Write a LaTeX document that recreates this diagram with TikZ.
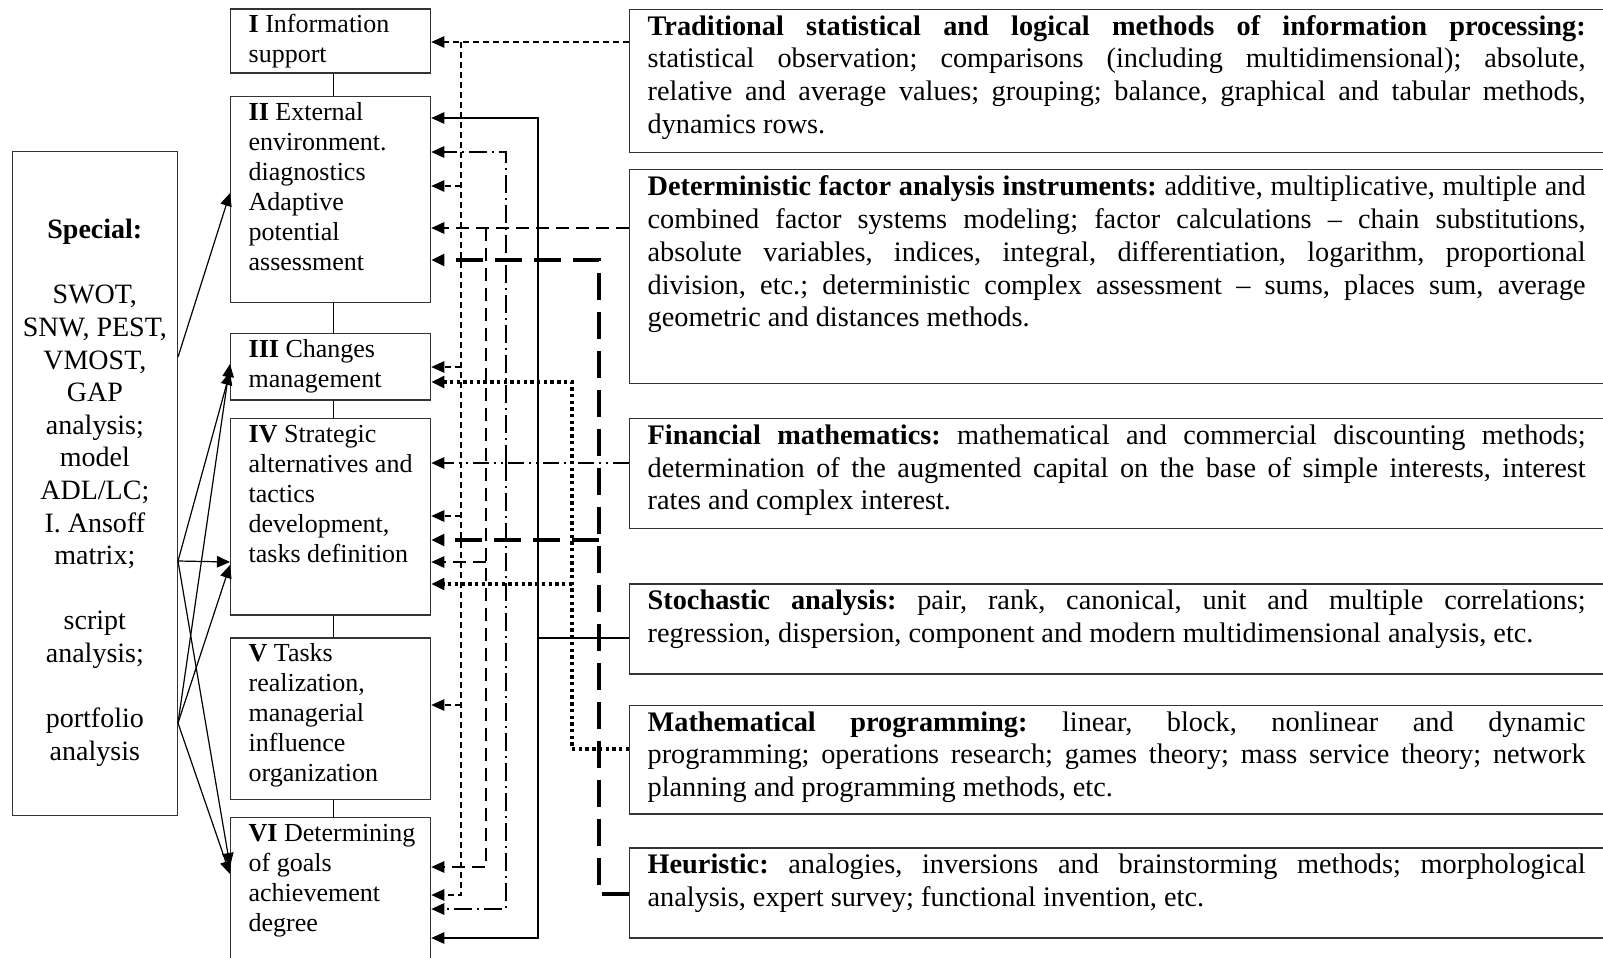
\documentclass[tikz,border=0pt]{standalone}
\usepackage{fontspec}
\setmainfont{Liberation Serif}
\usetikzlibrary{arrows.meta}
\frenchspacing
\newcommand\midfont{\fontsize{26}{30}\selectfont}
\newcommand\rtfont{\fontsize{28.3}{32.8}\selectfont}
\newcommand\lffont{\fontsize{28}{32.6}\selectfont}
\newcommand\jline[1]{\hbox to 938pt{#1}}
\newcommand\lline[1]{\hbox{#1}}
\newcommand\midtext[2]{\parbox[c][#1][t]{200pt}{\raggedright\leftskip=18pt\rule{0pt}{24pt}#2}}
\definecolor{bordc}{gray}{0.2}
\begin{document}
\begin{tikzpicture}[x=1pt,y=-1pt,
  midbox/.style={draw=bordc, line width=1.3pt, anchor=north west, inner sep=0pt, font=\midfont},
  rtbox/.style={draw=bordc, line width=1.3pt, anchor=north west, inner xsep=18pt, inner ysep=0pt, font=\rtfont},
  conn/.style={line width=1.2pt},
  arr/.style={-{Triangle[length=13pt,width=11.5pt]}},
  lnA/.style={line width=1.2pt, dash pattern=on 6pt off 4pt},
  lnB/.style={line width=1.3pt},
  lnC/.style={line width=1.4pt, dash pattern=on 16pt off 5pt on 2pt off 5pt on 2pt off 5pt},
  lnCv/.style={line width=1.4pt, dash pattern=on 18pt off 5pt on 2pt off 5pt},
  lnD/.style={line width=1.3pt, dash pattern=on 13pt off 7pt},
  lnE/.style={line width=3.4pt, dash pattern=on 27pt off 12pt},
  lnF/.style={line width=3.4pt, dash pattern=on 3.4pt off 3.3pt}
]
\useasboundingbox (0,0) rectangle (1603,958);

% left box
\node[draw=bordc, line width=1.3pt, anchor=north west, inner sep=0pt, font=\lffont] (special) at (11.7,151)
  {\parbox[c][664pt][t]{165pt}{\centering\rule{0pt}{87pt}\textbf{Special:}\\[32.6pt]
   SWOT,\\ SNW, PEST,\\ VMOST,\\ GAP\\ analysis;\\ model\\ ADL/LC;\\ I. Ansoff\\ matrix;\\[32.6pt]
   script\\ analysis;\\[32.6pt] portfolio\\ analysis\par}};

% middle boxes
\node[midbox] (b1) at (230,8.3) {\midtext{64pt}{\textbf{I} Information\\ support}};
\node[midbox] (b2) at (230,96) {\midtext{205.7pt}{\textbf{II} External\\ environment.\\ diagnostics\\ Adaptive\\ potential\\ assessment}};
\node[midbox] (b3) at (230,332.7) {\midtext{66.6pt}{\textbf{III} Changes\\ management}};
\node[midbox] (b4) at (230,417.7) {\midtext{196.6pt}{\textbf{IV} Strategic\\ alternatives and\\ tactics\\ development,\\ tasks definition}};
\node[midbox] (b5) at (230,637.3) {\midtext{161.7pt}{\textbf{V} Tasks\\ realization,\\ managerial\\ influence\\ organization}};
\node[midbox] (b6) at (230,816.7) {\midtext{170pt}{\textbf{VI} Determining\\ of goals\\ achievement\\ degree}};

% right boxes
\node[rtbox] (rb1) at (629,9) {\parbox[c][142.7pt][t]{964pt}{%
  \jline{\rule{0pt}{25.5pt}\textbf{Traditional statistical and logical methods of information processing:}}
  \jline{statistical observation; comparisons (including multidimensional); absolute,}
  \jline{relative and average values; grouping; balance, graphical and tabular methods,}
  \lline{dynamics rows.}}};
\node[rtbox] (rb2) at (629,169) {\parbox[c][213.7pt][t]{964pt}{%
  \jline{\rule{0pt}{26pt}\textbf{Deterministic factor analysis instruments:} additive, multiplicative, multiple and}
  \jline{combined factor systems modeling; factor calculations – chain substitutions,}
  \jline{absolute variables, indices, integral, differentiation, logarithm, proportional}
  \jline{division, etc.; deterministic complex assessment – sums, places sum, average}
  \lline{geometric and distances methods.}}};
\node[rtbox] (rb3) at (629,417.7) {\parbox[c][110pt][t]{964pt}{%
  \jline{\rule{0pt}{26pt}\textbf{Financial mathematics:} mathematical and commercial discounting methods;}
  \jline{determination of the augmented capital on the base of simple interests, interest}
  \lline{rates and complex interest.}}};
\node[rtbox] (rb4) at (629,583.3) {\parbox[c][90pt][t]{964pt}{%
  \jline{\rule{0pt}{26pt}\textbf{Stochastic analysis:} pair, rank, canonical, unit and multiple correlations;}
  \lline{regression, dispersion, component and modern multidimensional analysis, etc.}}};
\node[rtbox] (rb5) at (629,705) {\parbox[c][108.3pt][t]{964pt}{%
  \jline{\rule{0pt}{25.5pt}\textbf{Mathematical programming:} linear, block, nonlinear and dynamic}
  \jline{programming; operations research; games theory; mass service theory; network}
  \lline{planning and programming methods, etc.}}};
\node[rtbox] (rb6) at (629,847.3) {\parbox[c][90pt][t]{964pt}{%
  \jline{\rule{0pt}{25.5pt}\textbf{Heuristic:} analogies, inversions and brainstorming methods; morphological}
  \lline{analysis, expert survey; functional invention, etc.}}};

% chain of middle boxes
\draw[conn] ([xshift=3pt]b1.south) -- ([xshift=3pt]b2.north);
\draw[conn] ([xshift=3pt]b2.south) -- ([xshift=3pt]b3.north);
\draw[conn] ([xshift=3pt]b3.south) -- ([xshift=3pt]b4.north);
\draw[conn] ([xshift=3pt]b4.south) -- ([xshift=3pt]b5.north);
\draw[conn] ([xshift=3pt]b5.south) -- ([xshift=3pt]b6.north);

% left arrows
\coordinate (p1) at (special.east |- 0,357);
\coordinate (p2) at (special.east |- 0,561);
\coordinate (p3) at (special.east |- 0,723);
\draw[conn,arr] (p1) -- (b2.west |- 0,193);
\draw[conn,arr] (p2) -- (b3.west |- 0,372);
\draw[conn,arr] (p2) -- (b4.west |- 0,562);
\draw[conn,arr] (p2) -- (b6.west |- 0,866);
\draw[conn,arr] (p3) -- (b3.west |- 0,364);
\draw[conn,arr] (p3) -- (b4.west |- 0,565);
\draw[conn,arr] (p3) -- (b6.west |- 0,874);

% A: traditional (thin dashed)
\coordinate (a1) at (461,42);
\draw[lnA,arr] (rb1.west |- a1) -- (b1.east |- a1);
\draw[lnA,arr] (a1) -- (461,895) -- (b6.east |- 0,895);
\draw[lnA,arr] (461,186) -- (b2.east |- 0,186);
\draw[lnA,arr] (461,367) -- (b3.east |- 0,367);
\draw[lnA,arr] (461,516) -- (b4.east |- 0,516);
\draw[lnA,arr] (461,705) -- (b5.east |- 0,705);

% D: deterministic (dashed)
\coordinate (d1) at (486,228);
\draw[lnD,arr] (rb2.west |- d1) -- (b2.east |- d1);
\draw[lnD,arr] (d1) -- (486,867) -- (b6.east |- 0,867);
\draw[lnD,arr] (486,562) -- (b4.east |- 0,562);

% C: financial (dash-dot)
\coordinate (c1) at (506,463);
\draw[lnC,arr] (rb3.west |- c1) -- (b4.east |- c1);
\draw[lnCv,arr] (c1) -- (506,152) -- (b2.east |- 0,152);
\draw[lnCv,arr] (c1) -- (506,909) -- (b6.east |- 0,909);

% B: stochastic (solid)
\coordinate (s1) at (538,638);
\draw[lnB,arr] (rb4.west |- s1) -- (s1) -- (538,118) -- (b2.east |- 0,118);
\draw[lnB,arr] (s1) -- (538,938) -- (b6.east |- 0,938);

% F: mathematical programming (dotted)
\coordinate (f1) at (572,749);
\draw[lnF,arr] (rb5.west |- f1) -- (f1) -- (572,382) -- (b3.east |- 0,382);
\draw[lnF,arr] (572,584) -- (b4.east |- 0,584);

% E: heuristic (thick long dashed)
\coordinate (e1) at (599,894);
\draw[lnE,arr] (rb6.west |- e1) -- (e1) -- (599,260) -- (b2.east |- 0,260);
\draw[lnE,arr] (599,540) -- (b4.east |- 0,540);
\end{tikzpicture}
\end{document}
